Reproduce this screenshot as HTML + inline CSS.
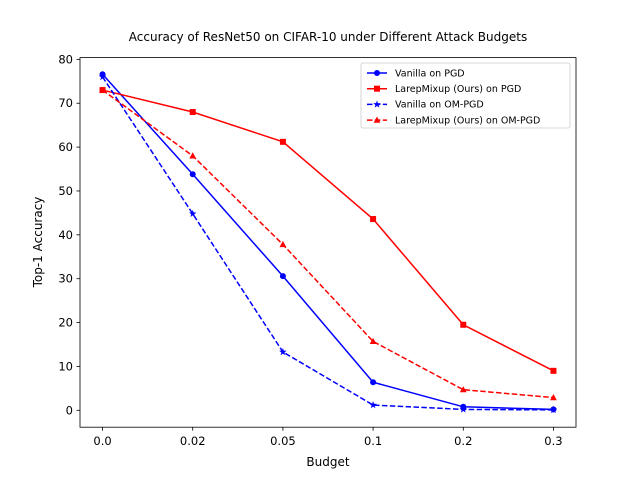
<!DOCTYPE html>
<html><head><meta charset="utf-8"><style>
body{margin:0;background:#fff;}
svg{display:block;font-family:"DejaVu Sans","Liberation Sans",sans-serif;}
</style></head><body>
<svg id="chart" width="640" height="480" viewBox="0 0 640 480">
<rect width="640" height="480" fill="#fff"/>
<text x="328" y="41" text-anchor="middle" font-size="12">Accuracy of ResNet50 on CIFAR-10 under Different Attack Budgets</text>
<g id="ticks"></g>
<g id="series"></g>
<rect x="80" y="57.6" width="496" height="369.6" fill="none" stroke="#000" stroke-width="0.8"/>
<text x="328" y="466" text-anchor="middle" font-size="12">Budget</text>
<text x="0" y="0" transform="translate(42,242) rotate(-90)" text-anchor="middle" font-size="12">Top-1 Accuracy</text>
<g id="legend"></g>
</svg>
<script>
const categories = ["0.0","0.02","0.05","0.1","0.2","0.3"];
const yTicks = [0,10,20,30,40,50,60,70,80];
const vanillaPGD = [76.6,53.8,30.6,6.4,0.8,0.2];
const larepPGD = [73.0,68.0,61.2,43.6,19.5,9.0];
const vanillaOM = [76.0,44.8,13.3,1.2,0.2,0.1];
const larepOM = [73.0,58.0,37.8,15.7,4.7,2.9];
const seriesNames = ["Vanilla on PGD","LarepMixup (Ours) on PGD","Vanilla on OM-PGD","LarepMixup (Ours) on OM-PGD"];

const NS="http://www.w3.org/2000/svg";
const L=80,R=576,T=57.6,B=427.2,yMin=-3.85,yMax=80.4;
const xs=i=>L+(i+0.25)/(categories.length-1+0.5)*(R-L);
const ys=v=>B-(v-yMin)/(yMax-yMin)*(B-T);
function mk(tag,attrs,parent){const e=document.createElementNS(NS,tag);for(const k in attrs)e.setAttribute(k,attrs[k]);parent.appendChild(e);return e;}
const tg=document.getElementById('ticks');
categories.forEach((c,i)=>{
  const x=xs(i);
  const l=mk('line',{x1:x,x2:x,y1:B,y2:B+3.5,stroke:'#000','stroke-width':0.8},tg);
  
  
  const t=mk('text',{x:x,y:B+18,'text-anchor':'middle','font-size':11.5},tg);
  t.textContent=c;
  
  
});
yTicks.forEach(v=>{
  const y=ys(v);
  const l=mk('line',{x1:L-3.5,x2:L,y1:y,y2:y,stroke:'#000','stroke-width':0.8},tg);
  
  
  const t=mk('text',{x:L-7,y:y+4,'text-anchor':'end','font-size':11.5},tg);
  t.textContent=v;
  
  
});
const defs=[
 {d:vanillaPGD,c:'#0000ff',dash:'',m:'circle'},
 {d:larepPGD,c:'#ff0000',dash:'',m:'square'},
 {d:vanillaOM,c:'#0000ff',dash:'5.5,2.4',m:'star'},
 {d:larepOM,c:'#ff0000',dash:'5.5,2.4',m:'triangle'}];
function marker(type,x,y,c,p){
  let e;
  if(type==='circle')e=mk('circle',{cx:x,cy:y,r:3,fill:c},p);
  else if(type==='square')e=mk('rect',{x:x-3,y:y-3,width:6,height:6,fill:c},p);
  else if(type==='triangle')e=mk('polygon',{points:`${x},${y-3.6} ${x-3.4},${y+2.6} ${x+3.4},${y+2.6}`,fill:c},p);
  else{let pts=[];for(let k=0;k<10;k++){const r=k%2?1.6:4,a=-Math.PI/2+k*Math.PI/5;pts.push((x+r*Math.cos(a))+','+(y+r*Math.sin(a)));}e=mk('polygon',{points:pts.join(' '),fill:c},p);}
  return e;
}
const sg=document.getElementById('series');
defs.forEach((s,si)=>{
  const g=mk('g',{},sg);
  
  
  const pl=mk('polyline',{points:s.d.map((v,i)=>xs(i)+','+ys(v)).join(' '),fill:'none',stroke:s.c,'stroke-width':1.5,'stroke-dasharray':s.dash},g);
  
  
  s.d.forEach((v,i)=>{
    const m=marker(s.m,xs(i),ys(v),s.c,g);
    
    
  });
});
const lg=document.getElementById('legend');
mk('rect',{x:361,y:63,width:209,height:65,rx:2,fill:'#fff',stroke:'#ccc','stroke-width':0.8},lg);
defs.forEach((s,i)=>{
  const y=73+i*15.7;
  const l=mk('line',{x1:367,x2:387,y1:y,y2:y,stroke:s.c,'stroke-width':1.5,'stroke-dasharray':s.dash},lg);
  
  
  const m=marker(s.m,377,y,s.c,lg);
  
  
  const t=mk('text',{x:395,y:y+3.3,'font-size':9.5},lg);
  t.textContent=seriesNames[i];
  
  
});
</script>
</body></html>
